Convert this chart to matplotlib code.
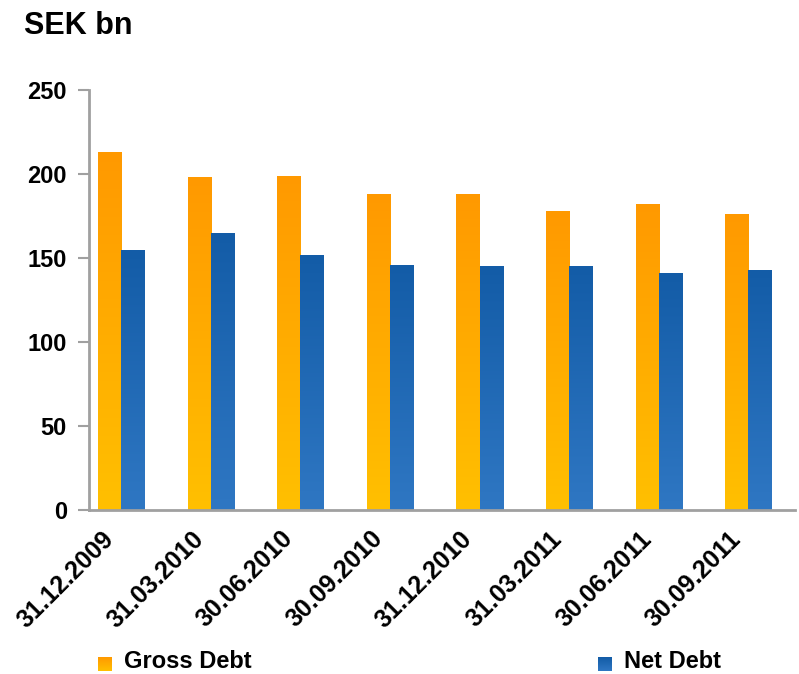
import numpy as np
import matplotlib.pyplot as plt
import matplotlib.transforms as mtransforms
from matplotlib.colors import LinearSegmentedColormap

# Skuldsättning per kvartal, miljarder SEK
datum = ["31.12.2009", "31.03.2010", "30.06.2010", "30.09.2010",
         "31.12.2010", "31.03.2011", "30.06.2011", "30.09.2011"]
brutto = [213, 198, 199, 188, 188, 178, 182, 176]
netto = [155, 165, 152, 146, 145, 145, 141, 143]
serier = ["Gross Debt", "Net Debt"]

plt.rcParams['font.family'] = ['Liberation Sans', 'DejaVu Sans']
plt.rcParams['font.weight'] = 'bold'

orange = LinearSegmentedColormap.from_list("orange", ["#FFC000", "#FF9900"])
bla = LinearSegmentedColormap.from_list("bla", ["#2F77C3", "#135CA7"])
gradient = np.linspace(0, 1, 256).reshape(-1, 1)


def gradientstaplar(ax, bars, cmap):
    # fyll varje stapel med en vertikal gradient
    for bar in bars:
        x0, y0 = bar.get_x(), bar.get_y()
        w, h = bar.get_width(), bar.get_height()
        im = ax.imshow(gradient, cmap=cmap, aspect='auto', origin='lower',
                       extent=(x0, x0 + w, y0, y0 + h), zorder=2)
        im.set_clip_path(bar)
        bar.set_facecolor('none')
        bar.set_edgecolor('none')


fig = plt.figure(figsize=(7.99, 6.74), dpi=100)
ax = fig.add_axes([0.1114, 0.2433, 0.8836, 0.6232])

x = np.arange(len(datum))
b = 0.257
b1 = ax.bar(x - b / 2, brutto, b, zorder=1)
b2 = ax.bar(x + b / 2, netto, b, zorder=1)
gradientstaplar(ax, b1, orange)
gradientstaplar(ax, b2, bla)

ax.set_xlim(-0.357, 7.52)
ax.set_ylim(0, 250)
ax.set_yticks([0, 50, 100, 150, 200, 250])
ax.set_xticks(x)
ax.set_xticklabels(datum, rotation=45, ha='right', va='center',
                   rotation_mode='anchor', fontsize=18, fontweight='bold')
ax.tick_params(axis='x', length=0, pad=0)
flytt = mtransforms.ScaledTranslation(-0.11, -0.25, fig.dpi_scale_trans)
for t in ax.get_xticklabels():
    t.set_transform(t.get_transform() + flytt)
ax.tick_params(axis='y', length=8, width=1.5, color='#A0A0A0',
               labelsize=17, pad=8)
for t in ax.get_yticklabels():
    t.set_fontweight('bold')

for s in ['top', 'right']:
    ax.spines[s].set_visible(False)
for s in ['left', 'bottom']:
    ax.spines[s].set_color('#A0A0A0')
    ax.spines[s].set_linewidth(2)

fig.text(24 / 799, 1 - 26 / 674, "SEK bn", fontsize=22, fontweight='bold',
         va='center', ha='left')

# förklaring med gradientrutor
for namn, cmap, xr, xt in [(serier[0], orange, 98, 124),
                           (serier[1], bla, 598, 624)]:
    lax = fig.add_axes([xr / 799, 1 - 671 / 674, 14 / 799, 14 / 674])
    lax.imshow(gradient, cmap=cmap, aspect='auto', origin='lower')
    lax.axis('off')
    fig.text(xt / 799, 1 - 662 / 674, namn, fontsize=17, fontweight='bold',
             va='center', ha='left')

fig.savefig("out.png", dpi=100)
